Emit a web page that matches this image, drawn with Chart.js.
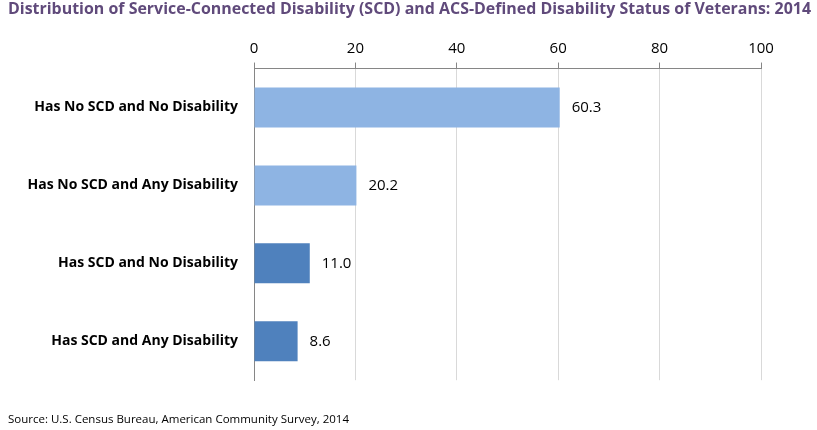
<!DOCTYPE html>
<html>
<head>
<meta charset="utf-8">
<script src="https://cdn.jsdelivr.net/npm/chart.js@4/dist/chart.umd.min.js"></script>
<style>
  html, body { margin: 0; padding: 0; background: #fff; }
  #wrap { width: 817px; height: 430px; position: relative; }
</style>
</head>
<body>
<div id="wrap"><canvas id="bars"></canvas></div>
<script>
// chart data
let categories = [
  "Has No SCD and No Disability",
  "Has No SCD and Any Disability",
  "Has SCD and No Disability",
  "Has SCD and Any Disability"
];
let percents = [60.3, 20.2, 11.0, 8.6];
let barColors = ["#8EB4E3", "#8EB4E3", "#4F81BD", "#4F81BD"];
let tickValues = [0, 20, 40, 60, 80, 100];

let font = "'Open Sans', 'Noto Sans', sans-serif";

// value labels next to each bar
let valueLabels = {
  id: "valueLabels",
  afterDatasetsDraw(chart) {
    let c = chart.ctx;
    let meta = chart.getDatasetMeta(0);
    c.save();
    c.font = "15px " + font;
    c.fillStyle = "#000";
    c.textBaseline = "middle";
    c.textAlign = "left";
    meta.data.forEach((bar, i) => {
      c.fillText(percents[i].toFixed(1), bar.x + 12, bar.y);
    });
    c.restore();
  }
};

new Chart(document.getElementById("bars"), {
  type: "bar",
  data: {
    labels: categories,
    datasets: [{
      data: percents,
      backgroundColor: barColors,
      borderWidth: 0,
      barPercentage: 0.513,
      categoryPercentage: 1.0
    }]
  },
  options: {
    indexAxis: "y",
    responsive: true,
    maintainAspectRatio: false,
    animation: false,
    layout: { padding: { left: 8, right: 6, top: 0, bottom: 0 } },
    plugins: {
      legend: { display: false },
      tooltip: { enabled: false },
      title: {
        display: true,
        text: "Distribution of Service-Connected Disability (SCD) and ACS-Defined Disability Status of Veterans: 2014",
        align: "start",
        color: "#604A7B",
        font: { family: font, size: 16.3, weight: "bold" },
        padding: { top: 0, bottom: 15 }
      },
      subtitle: {
        display: true,
        position: "bottom",
        text: "Source: U.S. Census Bureau, American Community Survey, 2014",
        align: "start",
        color: "#000",
        font: { family: font, size: 11.5 },
        padding: { top: 33, bottom: 3 }
      }
    },
    scales: {
      x: {
        position: "top",
        min: 0,
        max: 100,
        afterBuildTicks(scale) {
          scale.ticks = tickValues.map(v => ({ value: v }));
        },
        ticks: {
          color: "#000",
          font: { family: font, size: 15 },
          padding: 5
        },
        grid: {
          color: "#D9D9D9",
          tickColor: "#868686",
          tickLength: 6,
          drawTicks: true
        },
        border: { color: "#868686", width: 1 }
      },
      y: {
        afterFit(scale) { scale.width = 246; },
        ticks: {
          color: "#000",
          font: { family: font, size: 14, weight: "bold" },
          padding: 8
        },
        grid: { display: false },
        border: { color: "#868686", width: 1 }
      },
      // empty right-hand margin for the value labels
      yRight: {
        axis: "y",
        position: "right",
        afterFit(scale) { scale.width = 50; },
        ticks: { display: false },
        grid: { display: false },
        border: { display: false }
      }
    }
  },
  plugins: [valueLabels]
});
</script>
</body>
</html>
